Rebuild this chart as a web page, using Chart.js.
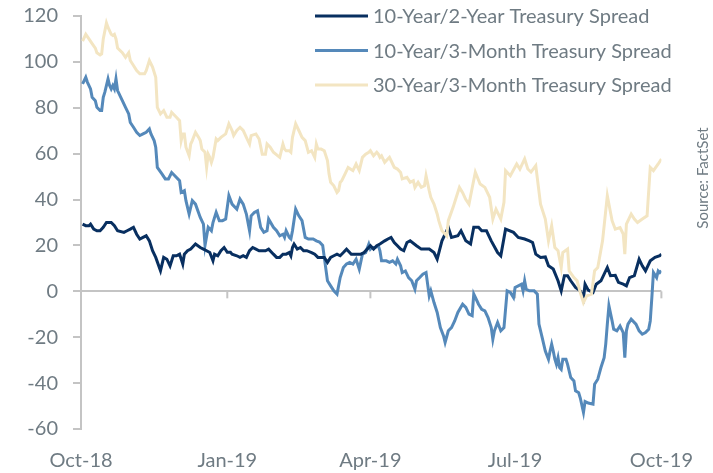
<!DOCTYPE html>
<html>
<head>
<meta charset="utf-8">
<script src="https://cdn.jsdelivr.net/npm/chart.js@4.4.1/dist/chart.umd.min.js"></script>
<style>
  html, body { margin: 0; padding: 0; background: #fff; }
</style>
</head>
<body>
<canvas id="chart" width="713" height="473"></canvas>
<script>
// x values are days since 1 Oct 2018
const tickDays = [0, 92, 182, 273, 365];
const tickLabels = ['Oct-18', 'Jan-19', 'Apr-19', 'Jul-19', 'Oct-19'];
const seriesNames = ['10-Year/2-Year Treasury Spread', '10-Year/3-Month Treasury Spread', '30-Year/3-Month Treasury Spread'];

const spread10y2y = [[1,29.3],[3,28.6],[5,28.6],[6,29.3],[8,27.1],[10,26.4],[12,26.4],[14,27.9],[16,30],[19,30],[21,28.6],[23,26.4],[27,25.7],[29,26.4],[31,27.1],[33,27.9],[35,24.9],[37,22.8],[39,23.5],[41,24.2],[43,22],[45,17.7],[47,14.8],[50,9],[52,14.8],[54,14],[56,11.1],[58,15.5],[60,15.5],[62,16.2],[64,11.9],[65,16.2],[67,17.7],[69,18.4],[72,20.6],[75,19.1],[77,18.4],[79,17.7],[81,16.9],[83,13.3],[84,16.2],[86,15.5],[88,17.7],[90,19.1],[92,17],[94,17],[95,16.2],[98,15.5],[100,14.8],[102,15.5],[104,14.8],[106,17.7],[108,19.1],[110,18.4],[112,17.7],[114,17.7],[116,17.7],[118,18.4],[121,16.2],[123,14.8],[125,14.8],[127,16.2],[129,16.2],[131,16.9],[132,15.5],[133,19.1],[134,20.6],[136,18.4],[138,19.1],[140,17.7],[142,17.7],[145,16.9],[147,16.2],[149,14.8],[151,14.8],[153,14.8],[155,12.6],[157,14.8],[159,15.5],[161,16.2],[163,15.5],[165,16.9],[167,18.4],[170,16.2],[172,16.2],[174,16.2],[176,16.2],[178,16.9],[180,18.4],[182,19.9],[184,18.4],[186,19.9],[188,20.6],[191,22],[193,22.8],[195,23.5],[197,21.3],[199,19.9],[201,18.4],[203,17.7],[205,21.3],[207,22],[211,19.9],[214,18.4],[219,18.4],[222,16.9],[224,14],[227,22],[231,27.9],[233,23.5],[237,24.2],[239,26.4],[242,22],[245,20.6],[247,27.9],[250,27.9],[252,26.4],[255,26.4],[258,22],[262,16.9],[264,15.5],[267,27.1],[272,25.7],[275,23.5],[279,22.8],[282,22],[284,21.3],[286,16.2],[289,14.8],[292,15],[294,11.1],[297,9.7],[300,4.6],[302,0.2],[304,6.8],[306,6.8],[308,4.6],[311,1.7],[314,0.2],[316,-3],[317,3.1],[319,0.5],[322,-0.5],[324,3.1],[327,4.6],[331,10.4],[333,6.8],[336,7],[338,3.9],[341,3.1],[343,2.4],[345,6],[348,6.8],[351,14],[353,11.1],[355,8.9],[358,13.3],[361,14.8],[364,15.5],[365,16.2]];

const spread10y3m = [[1,90.4],[3,93.3],[4,91.2],[6,88.2],[7,84.6],[9,83.1],[10,80.2],[12,78.8],[13,78.8],[14,84.6],[15,86.8],[17,92.6],[18,89.7],[19,88.2],[20,89.7],[21,88.2],[22,92.6],[23,87.5],[26,83.1],[28,80.2],[30,77.3],[31,73.6],[33,71.5],[35,69.3],[37,67.9],[39,68.6],[41,69.3],[43,70.8],[44,68.6],[46,65.7],[47,62.8],[48,54],[51,51.1],[53,49],[55,49],[57,51.8],[59,50.4],[62,48.2],[63,43.1],[65,43.9],[66,39.5],[68,33.7],[70,39.5],[72,38],[75,32.2],[77,29.3],[78,20],[80,27.9],[82,26.4],[83,30],[85,34.4],[87,30.8],[89,30.8],[91,31.5],[93,41.7],[95,38],[98,35.8],[100,40.2],[102,38],[104,33.7],[106,26.4],[107,32.9],[109,34.4],[111,35.1],[113,27.9],[115,25.7],[117,26.4],[118,31.5],[121,27.9],[123,26.4],[125,24.2],[127,24.9],[128,23.5],[129,26.4],[131,23.5],[132,22.8],[133,26.4],[135,35.8],[137,32.9],[139,30.8],[141,23.5],[143,22.8],[146,22.8],[148,22],[150,21.5],[152,20],[153,14.8],[155,4.6],[157,2.4],[159,0.2],[161,-1.2],[163,6],[165,10.4],[167,11.9],[169,12.6],[171,11.9],[173,14],[175,9.7],[177,16.2],[179,16.9],[181,20.6],[182,18.4],[183,19.1],[185,19.1],[187,19.9],[188,17.7],[189,13.3],[192,13.3],[194,12.6],[196,13.3],[198,11.9],[199,14],[201,11.1],[202,8.2],[204,8.9],[206,6],[208,4.6],[210,0.9],[211,4.6],[213,6],[215,7.5],[217,8.2],[219,-2],[220,0.2],[222,-4.9],[224,-9.2],[226,-15.8],[228,-19.4],[229,-22.3],[231,-17.2],[233,-15.8],[235,-12.9],[237,-9.2],[240,-5.6],[242,-7],[244,-9.9],[246,-10.6],[247,-1.2],[249,-4.1],[250,-5.6],[252,-7.8],[254,-8.5],[256,-11.4],[258,-15.8],[259,-20.9],[260,-17.2],[262,-13.6],[264,-17.2],[266,-15.8],[268,0.2],[270,-0.5],[272,-2.7],[273,1.7],[275,2.4],[277,3.1],[278,0.2],[279,4.6],[280,0.9],[282,0.2],[285,0.2],[287,-1.2],[288,-14.3],[290,-20.1],[292,-26],[294,-29.6],[295,-26],[296,-23],[297,-26],[298,-29.6],[299,-31.8],[300,-28.9],[301,-33.2],[302,-34],[303,-29.6],[305,-29.6],[306,-31.8],[308,-37.6],[310,-39.1],[311,-43.4],[313,-44.2],[314,-46.5],[316,-52.8],[317,-48],[319,-48.7],[322,-49.2],[323,-40.5],[325,-38.3],[327,-33.2],[329,-28.9],[330,-23],[331,-14.3],[332,-6.3],[334,-12.9],[335,-16.5],[337,-17.2],[339,-15.1],[341,-18],[342,-28.9],[343,-17.2],[344,-14.3],[346,-12.1],[349,-14.3],[351,-17.2],[353,-18.7],[355,-18],[357,-16.5],[358,-12.9],[359,-2.7],[360,8.2],[362,6],[363,8.9],[364,8.2],[365,9]];

const spread30y3m = [[1,109],[3,112],[5,110],[7,108],[9,106],[10,104],[12,103],[13,103.5],[14,110],[16,117],[17,115],[19,112],[20,111.5],[21,112],[22,110],[23,106],[26,104],[28,102],[30,104],[31,100.6],[33,98.4],[35,96.2],[37,94.8],[40,94.8],[41,96.2],[43,100.6],[45,97.7],[47,93.3],[48,80.2],[50,77.3],[52,78.8],[54,75.9],[56,75.9],[57,78],[58,77.3],[60,75.9],[62,74.4],[63,65.7],[64,68.6],[65,68.6],[66,62.8],[68,59.1],[69,64.2],[70,65.7],[72,69.3],[74,67.1],[75,65.7],[76,62],[78,60.6],[79,54],[80,59.8],[81,58.4],[82,56.2],[83,58.4],[85,66.4],[86,65.7],[88,67.1],[91,68.6],[93,73],[95,70.1],[96,67.9],[98,70.1],[100,71.5],[102,70.1],[104,67.1],[106,64.2],[107,67.9],[110,68.6],[112,66.4],[114,59.8],[116,59.8],[117,64.2],[119,62.8],[121,60.6],[125,58.4],[127,64.2],[128,62],[129,61.3],[131,61.3],[132,60.6],[133,67.1],[135,73],[137,70.1],[139,67.1],[141,65.7],[143,60.6],[145,61.3],[147,58.4],[148,64.2],[149,62],[151,62],[153,61.3],[155,57],[156,51.1],[157,47.5],[159,46],[161,43.1],[162,43.9],[163,47.5],[164,48.2],[166,51.1],[168,54],[171,52.6],[173,55.5],[175,52.6],[177,58.4],[179,59.8],[181,60.6],[182,61.3],[184,59.1],[186,60.6],[187,59.8],[188,58.4],[189,59.1],[191,56.2],[194,58.4],[196,55.5],[197,54],[199,53.3],[201,51.8],[202,49],[205,49.7],[207,47.5],[209,48.2],[210,45.3],[212,47.5],[214,45.3],[216,46],[217,50.4],[219,43.9],[220,41],[222,38],[224,33.7],[225,30.8],[227,26.4],[230,24.2],[231,30.8],[234,36.6],[236,41],[238,45.3],[240,43],[242,40],[244,38],[246,45],[248,51.9],[251,46.8],[254,45.3],[257,41],[259,31.5],[261,35.8],[264,31.5],[266,38.8],[267,52.6],[270,50.4],[274,55.5],[276,53.3],[279,57.7],[281,53.3],[283,52],[286,54.8],[289,38],[292,31.5],[294,22],[296,28.6],[298,19.1],[300,17.7],[302,10.4],[303,16.9],[306,18.4],[307,8.9],[310,6],[312,4.6],[314,-0.5],[316,-4.9],[318,-2],[321,-1.2],[323,9],[325,10.4],[328,22],[331,41.7],[334,30.8],[336,27.1],[339,27.8],[341,25],[342,16.2],[343,29.3],[346,33.7],[348,31.5],[350,30],[353,31.5],[356,32.9],[358,54],[360,52.6],[363,55.5],[365,57.7]];

const textGray = '#6f7b83';
const axisGray = '#c4c4c4';
const toPoints = (pairs) => pairs.map(p => ({ x: p[0], y: p[1] }));

// x tick marks hanging below the zero line
const zeroTicks = {
  id: 'zeroTicks',
  beforeDatasetsDraw(chart) {
    const { ctx, scales: { x, y } } = chart;
    const y0 = y.getPixelForValue(0);
    ctx.save();
    ctx.strokeStyle = axisGray;
    ctx.lineWidth = 2;
    tickDays.forEach(d => {
      const px = x.getPixelForValue(d);
      ctx.beginPath();
      ctx.moveTo(px, y0);
      ctx.lineTo(px, y0 + 7);
      ctx.stroke();
    });
    ctx.restore();
  }
};

// legend sits inside the plot, top right; source note on the right edge
const insideLegend = {
  id: 'insideLegend',
  afterDraw(chart) {
    const ctx = chart.ctx;
    ctx.save();
    ctx.font = '20px Lato';
    ctx.textBaseline = 'middle';
    chart.data.datasets.forEach((ds, i) => {
      const yy = 16 + i * 34.5;
      ctx.strokeStyle = ds.borderColor;
      ctx.lineWidth = 3;
      ctx.beginPath();
      ctx.moveTo(315, yy);
      ctx.lineTo(368, yy);
      ctx.stroke();
      ctx.fillStyle = textGray;
      ctx.fillText(ds.label, 373, yy + 1);
    });
    ctx.translate(703, 178);
    ctx.rotate(-Math.PI / 2);
    ctx.textAlign = 'center';
    ctx.font = '15px Lato';
    ctx.fillText('Source: FactSet', 0, 0);
    ctx.restore();
  }
};

new Chart(document.getElementById('chart'), {
  type: 'line',
  data: {
    datasets: [
      { label: seriesNames[0], data: toPoints(spread10y2y), borderColor: '#082f60', order: 1 },
      { label: seriesNames[1], data: toPoints(spread10y3m), borderColor: '#5589ba', order: 2 },
      { label: seriesNames[2], data: toPoints(spread30y3m), borderColor: '#f3e5c2', order: 0 }
    ]
  },
  options: {
    responsive: false,
    animation: false,
    layout: { padding: { top: 16, right: 48, bottom: 0, left: 0 } },
    elements: {
      line: { borderWidth: 3, tension: 0 },
      point: { radius: 0 }
    },
    plugins: { legend: { display: false }, tooltip: { enabled: false } },
    scales: {
      x: {
        type: 'linear',
        min: 0,
        max: 365,
        grid: { display: false, drawTicks: false },
        border: { display: false },
        afterBuildTicks(scale) { scale.ticks = tickDays.map(v => ({ value: v })); },
        afterFit(scale) { scale.height = 44; },
        ticks: {
          autoSkip: false,
          maxRotation: 0,
          padding: 20,
          color: textGray,
          font: { family: 'Lato', size: 20 },
          callback: (v) => tickLabels[tickDays.indexOf(v)]
        }
      },
      y: {
        min: -60,
        max: 120,
        afterFit(scale) {
          scale.width = 81;
          scale.paddingTop = 0;
          scale.paddingBottom = 0;
        },
        grid: {
          color: (c) => (c.tick && c.tick.value === 0 ? axisGray : 'rgba(0,0,0,0)'),
          tickColor: axisGray,
          tickLength: 8,
          lineWidth: 2
        },
        border: { display: true, color: axisGray, width: 2 },
        ticks: {
          stepSize: 20,
          padding: 15,
          color: textGray,
          font: { family: 'Lato', size: 20 }
        }
      }
    }
  },
  plugins: [zeroTicks, insideLegend]
});
</script>
</body>
</html>
